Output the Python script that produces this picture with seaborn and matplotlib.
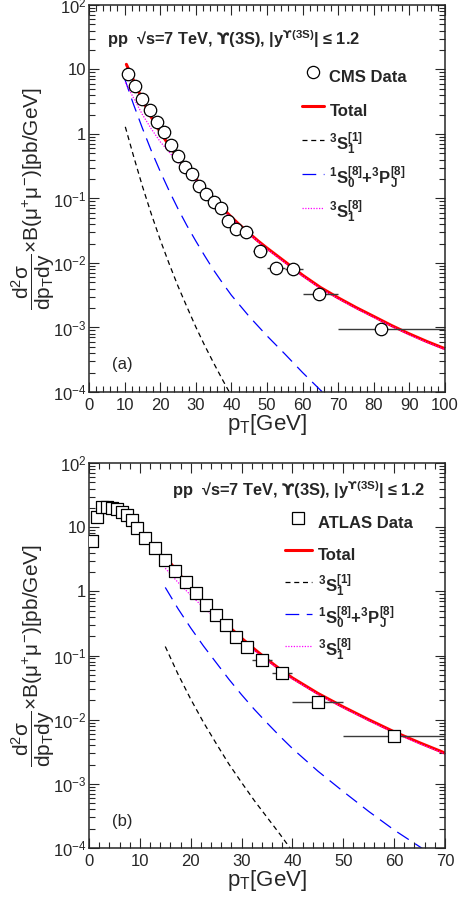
import matplotlib
matplotlib.use("Agg")
import matplotlib.pyplot as plt
from matplotlib.lines import Line2D
from matplotlib.ticker import MultipleLocator, LogLocator, NullFormatter
import numpy as np
import pandas as pd
import seaborn as sns

# ---- CMS data, panel (a) ----
cms_pt = [11, 13, 15, 17, 19, 21, 23, 25, 27, 29, 31, 33, 35, 37, 39, 41.4, 44.2, 48, 52.5, 57.4, 64.6, 82]
cms_val = [8.5, 5.6, 3.5, 2.35, 1.55, 1.06, 0.67, 0.45, 0.31, 0.24, 0.157, 0.119, 0.089, 0.070,
           0.045, 0.034, 0.030, 0.0154, 0.0085, 0.0082, 0.0033, 0.00094]
cms_lo = [10, 12, 14, 16, 18, 20, 22, 24, 26, 28, 30, 32, 34, 36, 38, 40, 43, 46, 50, 55, 60, 70]
cms_hi = [12, 14, 16, 18, 20, 22, 24, 26, 28, 30, 32, 34, 36, 38, 40, 43, 46, 50, 55, 60, 70, 100]

# ---- theory curves, panel (a) ----
tot_a_pt = [10.5, 12.5, 15, 17.5, 20, 22.5, 25, 27.5, 30, 32.5, 35, 37.5, 40, 42.5, 45, 47.5,
            50, 55, 60, 65, 70, 75, 80, 85, 90, 95, 100]
tot_a = [12.0, 6.76, 3.39, 1.82, 1.07, 0.661, 0.427, 0.288, 0.200, 0.138, 0.0977, 0.0708, 0.0513,
         0.0380, 0.0288, 0.0219, 0.0170, 0.0105, 0.00646, 0.00417, 0.00288, 0.00204, 0.00148,
         0.00107, 0.000794, 0.000603, 0.000468]
s8_a_pt = [10.2, 12.5, 15, 17.5, 20, 22.5, 25, 27.5, 30, 32.5, 35, 37.5, 40, 45, 50, 55, 60, 65,
           70, 75, 80, 85, 90, 95, 100]
s8_a = [6.31, 3.63, 2.00, 1.20, 0.759, 0.525, 0.363, 0.263, 0.191, 0.133, 0.0944, 0.0684, 0.0495,
        0.0279, 0.0164, 0.0101, 0.00624, 0.00403, 0.00279, 0.00197, 0.00143, 0.00104, 0.000767,
        0.000582, 0.000452]
p8_a_pt = [10, 12.5, 15, 17.5, 20, 22.5, 25, 27.5, 30, 32.5, 35, 37.5, 40, 45, 50, 55, 60, 65, 66]
p8_a = [7.24, 2.88, 1.23, 0.550, 0.263, 0.132, 0.0692, 0.0380, 0.0219, 0.0129, 0.00776, 0.00490,
        0.00316, 0.00148, 0.000741, 0.000389, 0.000200, 0.000107, 0.0000950]
s1_a_pt = [10.2, 12.5, 15, 17.5, 20, 22.5, 25, 27.5, 30, 32.5, 35, 37.5, 40]
s1_a = [1.29, 0.457, 0.155, 0.0575, 0.0229, 0.00977, 0.00437, 0.00209, 0.00102, 0.000525,
        0.000282, 0.000155, 0.0000871]

# ---- ATLAS data, panel (b) ----
atl_pt = [0.6, 1.6, 2.5, 3.5, 4.5, 5.5, 6.5, 7.5, 8.5, 9.5, 11, 13, 15, 17, 19, 21, 23, 25, 27,
          29, 31, 34, 38, 45, 60]
atl_val = [6.0, 14.3, 20.6, 20.6, 20.1, 19.0, 17.5, 15.3, 12.8, 9.8, 6.7, 4.7, 3.1, 2.05, 1.38,
           0.95, 0.62, 0.43, 0.30, 0.197, 0.137, 0.085, 0.054, 0.019, 0.0055]
atl_lo = [0, 1, 2, 3, 4, 5, 6, 7, 8, 9, 10, 12, 14, 16, 18, 20, 22, 24, 26, 28, 30, 32, 36, 40, 50]
atl_hi = [1, 2, 3, 4, 5, 6, 7, 8, 9, 10, 12, 14, 16, 18, 20, 22, 24, 26, 28, 30, 32, 36, 40, 50, 70]

# ---- theory curves, panel (b) ----
tot_b_pt = [15.5, 17.5, 20, 22.5, 25, 27.5, 30, 32.5, 35, 37.5, 40, 45, 50, 55, 60, 65, 70]
tot_b = [3.09, 1.95, 1.15, 0.692, 0.437, 0.282, 0.186, 0.126, 0.0871, 0.0617, 0.0447, 0.0257,
         0.0158, 0.0100, 0.00646, 0.00437, 0.00302]
s8_b_pt = [15, 17.5, 20, 22.5, 25, 27.5, 30, 32.5, 35, 37.5, 40, 45, 50, 55, 60, 65, 70]
s8_b = [2.29, 1.38, 0.871, 0.562, 0.372, 0.251, 0.174, 0.120, 0.0841, 0.0596, 0.0432, 0.0248,
        0.0153, 0.00966, 0.00624, 0.00422, 0.00292]
p8_b_pt = [15, 17.5, 20, 22.5, 25, 27.5, 30, 32.5, 35, 37.5, 40, 45, 50, 55, 60, 65, 66]
p8_b = [1.15, 0.537, 0.269, 0.141, 0.0776, 0.0427, 0.0245, 0.0145, 0.00891, 0.00556, 0.00355,
        0.00158, 0.000759, 0.000372, 0.000191, 0.000105, 0.0000933]
s1_b_pt = [15, 17.5, 20, 22.5, 25, 27.5, 30, 32.5, 35, 37.5, 40]
s1_b = [0.138, 0.0513, 0.0209, 0.00912, 0.00427, 0.00204, 0.00105, 0.000550, 0.000302,
        0.000166, 0.0000891]

sns.set_style("ticks")
plt.rcParams["font.family"] = ["Liberation Sans", "DejaVu Sans"]
plt.rcParams["mathtext.fontset"] = "custom"
plt.rcParams["mathtext.rm"] = "Liberation Sans"
plt.rcParams["mathtext.it"] = "Liberation Sans:italic"
plt.rcParams["mathtext.bf"] = "Liberation Sans:bold"
plt.rcParams["mathtext.sf"] = "Liberation Sans"
plt.rcParams["mathtext.cal"] = "DejaVu Sans:bold"   # hooked upsilon glyph
plt.rcParams["mathtext.default"] = "regular"
plt.rcParams["mathtext.fallback"] = "stixsans"

LBL_S1 = r"$^{\mathbf{3}}\mathbf{S}_{\mathbf{1}}^{\mathbf{[1]}}$"
LBL_P8 = (r"$^{\mathbf{1}}\mathbf{S}_{\mathbf{0}}^{\mathbf{[8]}}\mathbf{+}"
          r"^{\mathbf{3}}\mathbf{P}_{\mathbf{J}}^{\mathbf{[8]}}$")
LBL_S8 = r"$^{\mathbf{3}}\mathbf{S}_{\mathbf{1}}^{\mathbf{[8]}}$"
TITLE = r"pp  √s=7 TeV, $\mathcal{ϒ}$(3S), |y$^{\mathcal{ϒ}\mathbf{(3S)}}$| ≤ 1.2"
YLABEL = r"$\dfrac{d^{2}\sigma}{dp_{T}dy}$$\times$B($\mu^{+}\mu^{-}$)[pb/GeV]"


def draw_panel(ax, d_pt, d_val, d_lo, d_hi, marker, data_label, curves, xmax, tag,
               title_pos, leg_anchor, handlelen, lspace):
    ax.set_yscale("log")
    handles = []
    for pt, val, color, lw, ls, lab in curves:
        df = pd.DataFrame({"pt": pt, "val": val})
        sns.lineplot(data=df, x="pt", y="val", ax=ax, color=color, lw=lw, linestyle=ls,
                     estimator=None, sort=True)
        handles.append(Line2D([], [], color=color, lw=lw, linestyle=ls, label=lab))

    # data points with bin-width bars
    d_pt = np.array(d_pt)
    xerr = [d_pt - np.array(d_lo), np.array(d_hi) - d_pt]
    ax.errorbar(d_pt, d_val, xerr=xerr, fmt="none", ecolor="#3a3a3a", elinewidth=1.0,
                capsize=0, zorder=3)
    sns.scatterplot(x=d_pt, y=d_val, ax=ax, marker=marker, s=80, facecolor="white",
                    edgecolor="black", linewidth=0.9, zorder=4)

    data_h = Line2D([], [], marker=marker, ls="none", mfc="white", mec="black", mew=0.9,
                    ms=8.8, label=data_label)
    ax.legend(handles=[data_h] + handles, loc="upper left", bbox_to_anchor=leg_anchor,
              frameon=False, prop={"weight": "bold", "size": 12},
              handlelength=handlelen, handletextpad=0.35, handleheight=2.3,
              labelspacing=lspace, borderpad=0, borderaxespad=0)

    ax.set_xlim(0, xmax)
    ax.set_ylim(1e-4, 1e2)
    ax.set_yticks([1e-4, 1e-3, 1e-2, 1e-1, 1, 10, 1e2],
                  [r"$10^{-4}$", r"$10^{-3}$", r"$10^{-2}$", r"$10^{-1}$", "1", "10",
                   r"$10^{2}$"])
    ax.yaxis.set_minor_locator(LogLocator(base=10, subs=np.arange(2, 10)))
    ax.yaxis.set_minor_formatter(NullFormatter())
    ax.xaxis.set_major_locator(MultipleLocator(10))
    ax.xaxis.set_minor_locator(MultipleLocator(2))
    ax.tick_params(which="both", direction="in", top=True, right=True, width=0.8,
                   labelsize=12)
    ax.tick_params(which="major", length=7.5)
    ax.tick_params(which="minor", length=4)
    ax.tick_params(axis="y", pad=2)
    ax.tick_params(axis="x", pad=4)
    for sp in ax.spines.values():
        sp.set_linewidth(1.1)

    ax.set_xlabel(r"p$_{T}$[GeV]", fontsize=16, va="top")
    ax.xaxis.set_label_coords(0.5, -0.052)
    ax.set_ylabel(YLABEL, fontsize=15)
    ax.yaxis.set_label_coords(-0.09, 0.5)

    tx, ty, ha = title_pos
    ax.text(tx, ty, TITLE, transform=ax.transAxes, ha=ha, va="center", fontsize=11.8,
            fontweight="bold")
    ax.text(0.093, 0.07, tag, transform=ax.transAxes, ha="center", va="center", fontsize=12)


fig = plt.figure(figsize=(4.58, 8.99), dpi=100)
ax_a = fig.add_axes([0.1943, 0.5640, 0.7773, 0.4305])
ax_b = fig.add_axes([0.1943, 0.0567, 0.7773, 0.4283])

curves_a = [
    (tot_a_pt, tot_a, "#ff0000", 2.2, "-", "Total"),
    (s1_a_pt, s1_a, "black", 0.9, (0, (4, 3)), LBL_S1),
    (p8_a_pt, p8_a, "#0000ff", 0.9, (0, (11, 6)), LBL_P8),
    (s8_a_pt, s8_a, "#ff00ff", 0.9, (0, (1, 1.2)), LBL_S8),
]
draw_panel(ax_a, cms_pt, cms_val, cms_lo, cms_hi, "o", "CMS Data", curves_a, 100, "(a)",
           (0.051, 0.911, "left"), (0.598, 0.853), 1.3, 0.3)

curves_b = [
    (tot_b_pt, tot_b, "#ff0000", 2.2, "-", "Total"),
    (s1_b_pt, s1_b, "black", 0.9, (0, (4, 3)), LBL_S1),
    (p8_b_pt, p8_b, "#0000ff", 0.9, (0, (11, 6)), LBL_P8),
    (s8_b_pt, s8_b, "#ff00ff", 0.9, (0, (1, 1.2)), LBL_S8),
]
draw_panel(ax_b, atl_pt, atl_val, atl_lo, atl_hi, "s", "ATLAS Data", curves_b, 70, "(b)",
           (0.944, 0.930, "right"), (0.551, 0.882), 1.6, 0.17)

plt.savefig("out.png", dpi=100)
plt.close()
